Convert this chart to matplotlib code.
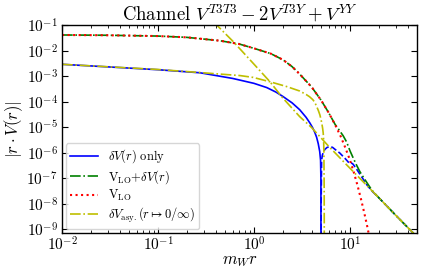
import matplotlib
matplotlib.use("Agg")
import matplotlib.pyplot as plt
from matplotlib.ticker import NullLocator, LogLocator

plt.rcParams['mathtext.fontset'] = 'cm'
plt.rcParams['font.family'] = ['serif']
plt.rcParams['font.serif'] = ['cmr10', 'DejaVu Serif']
plt.rcParams['axes.formatter.use_mathtext'] = True

# --- data ---
# delta V only, positive part (solid)
r_dv_pos = [0.01, 0.03, 0.1, 0.274, 0.6, 1.0, 1.36, 1.7, 2.0, 2.5, 3.0, 3.5, 3.83, 4.1, 4.3,
            4.5, 4.68, 4.85, 4.95, 4.99, 5.0]
v_dv_pos = [2.9e-3, 2.3e-3, 1.78e-3, 1.35e-3, 8.1e-4, 5.2e-4, 3.55e-4, 2.35e-4, 1.6e-4, 8.9e-5,
            4.8e-5, 2.4e-5, 1.45e-5, 9.3e-6, 6.3e-6, 4.0e-6, 2.25e-6, 1.1e-6, 5.0e-7, 1.0e-7, 1e-11]
# delta V only, negative part (dashed)
r_dv_neg = [5.0, 5.02, 5.07, 5.17, 5.3, 5.5, 5.8, 6.19, 6.6, 6.98, 7.87, 8.87, 9.5, 9.9, 10.3,
            10.8, 11.7, 13.2, 15, 17, 20, 30, 44, 48]
v_dv_neg = [1e-11, 1e-8, 5.0e-7, 8.0e-7, 1.05e-6, 1.35e-6, 1.6e-6, 1.72e-6, 1.6e-6, 1.35e-6,
            9.5e-7, 6.0e-7, 4.5e-7, 3.7e-7, 4.0e-7, 3.5e-7, 2.3e-7, 1.15e-7, 5.5e-8, 3.1e-8,
            1.7e-8, 3.5e-9, 8.1e-10, 5.8e-10]
# V_LO + delta V
r_tot = [0.01, 0.03, 0.1, 0.2, 0.44, 0.7, 1.0, 1.5, 2.0, 2.5, 3.0, 4.0, 5.0, 6.0, 7.0, 7.55,
         8.5, 9.25, 10.0, 10.8, 11.7, 12.7, 14.0, 15.5, 17, 20, 30, 44, 48]
v_tot = [0.041, 0.040, 0.0372, 0.0331, 0.0245, 0.0182, 0.0123, 7.6e-3, 4.4e-3, 2.35e-3, 1.2e-3,
         3.7e-4, 1.15e-4, 3.7e-5, 1.29e-5, 8.7e-6, 4.6e-6, 2.6e-6, 1.2e-6, 6.3e-7, 3.3e-7,
         1.8e-7, 1.0e-7, 5.6e-8, 3.3e-8, 1.7e-8, 3.5e-9, 8.1e-10, 5.8e-10]
# V_LO
r_lo = [0.01, 0.03, 0.1, 0.2, 0.44, 0.7, 1.0, 1.5, 2.0, 2.5, 3.0, 4.0, 5.0, 6.0, 7.0, 8.0,
        9.0, 10, 11, 12, 13, 14, 15, 16]
v_lo = [0.041, 0.040, 0.0372, 0.0331, 0.0245, 0.0182, 0.0123, 7.6e-3, 4.4e-3, 2.35e-3, 1.2e-3,
        3.7e-4, 1.15e-4, 3.7e-5, 1.26e-5, 4.4e-6, 1.5e-6, 5.2e-7, 1.66e-7, 5.2e-8, 1.6e-8,
        5.0e-9, 1.55e-9, 4.8e-10]
# asymptotic delta V, small r
r_asy0 = [0.01, 0.1, 0.274, 0.443, 0.714, 0.98, 1.47, 2.19, 3.0, 3.5, 3.8, 4.1, 4.3, 4.5, 4.7,
          4.87, 5.0, 5.1, 5.2, 5.27, 5.32, 5.36, 5.40, 5.42]
v_asy0 = [2.9e-3, 1.82e-3, 1.38e-3, 1.2e-3, 1.05e-3, 8.9e-4, 6.0e-4, 3.9e-4, 2.6e-4, 1.9e-4,
          1.55e-4, 1.2e-4, 9.5e-5, 6.5e-5, 4.4e-5, 3.0e-5, 2.0e-5, 1.4e-5, 9.0e-6, 6.0e-6,
          3.5e-6, 1.2e-6, 3e-8, 1e-11]
# asymptotic delta V, large r
r_asyinf = [0.38, 0.41, 0.61, 1.0, 1.47, 2.0, 3.0, 4.0, 6.0, 10, 20, 30, 44, 48]
v_asyinf = [0.14, 0.1, 0.0224, 2.95e-3, 6.0e-4, 1.38e-4, 2.57e-5, 9.5e-6, 1.78e-6, 2.45e-7,
            1.7e-8, 3.5e-9, 8.1e-10, 5.8e-10]

fig = plt.figure(figsize=(4.22, 2.73), dpi=100)
ax = fig.add_axes([0.147, 0.1465, 0.841, 0.7615])

lw = 1.2
ax.plot(r_dv_pos, v_dv_pos, color='b', ls='-', lw=lw, label=r'$\delta V(r)\ \mathrm{only}$')
ax.plot(r_dv_neg, v_dv_neg, color='b', ls='--', lw=lw)
ax.plot(r_tot, v_tot, color='g', ls='-.', lw=lw, label=r'$\mathrm{V}_{\mathrm{LO}}{+}\delta V(r)$')
ax.plot(r_lo, v_lo, color='r', ls=':', lw=1.5, label=r'$\mathrm{V}_{\mathrm{LO}}$')
ax.plot(r_asy0, v_asy0, color='y', ls='-.', lw=lw, label=r'$\delta V_{\mathrm{asy.}}(r\mapsto 0/\infty)$')
ax.plot(r_asyinf, v_asyinf, color='y', ls='-.', lw=lw)

ax.set_xscale('log')
ax.set_yscale('log')
ax.set_xlim(0.01, 50)
ax.set_ylim(7e-10, 0.1)
ax.yaxis.set_major_locator(LogLocator(base=10, numticks=20))
ax.yaxis.set_minor_locator(NullLocator())

ax.tick_params(which='both', direction='in', top=True, right=True, labelsize=11)
ax.tick_params(axis='x', which='major', pad=2)
ax.tick_params(axis='y', which='major', pad=3)
ax.tick_params(which='major', length=4, width=0.8)
ax.tick_params(which='minor', length=2.5, width=0.6)
for s in ax.spines.values():
    s.set_linewidth(1.0)

ax.set_xlabel(r'$m_W r$', fontsize=12, labelpad=0)
ax.set_ylabel(r'$|r\cdot V(r)|$', fontsize=12, labelpad=1)
ax.set_title(r'$\mathrm{Channel}\ V^{T3T3}-2V^{T3Y}+V^{YY}$', fontsize=13.5, pad=3)

ax.legend(loc='lower left', fontsize=9, framealpha=0.8, borderaxespad=0.3,
          handlelength=2.2, labelspacing=0.2, borderpad=0.35, handletextpad=0.8,
          fancybox=True)

fig.savefig('out.png', dpi=100)
